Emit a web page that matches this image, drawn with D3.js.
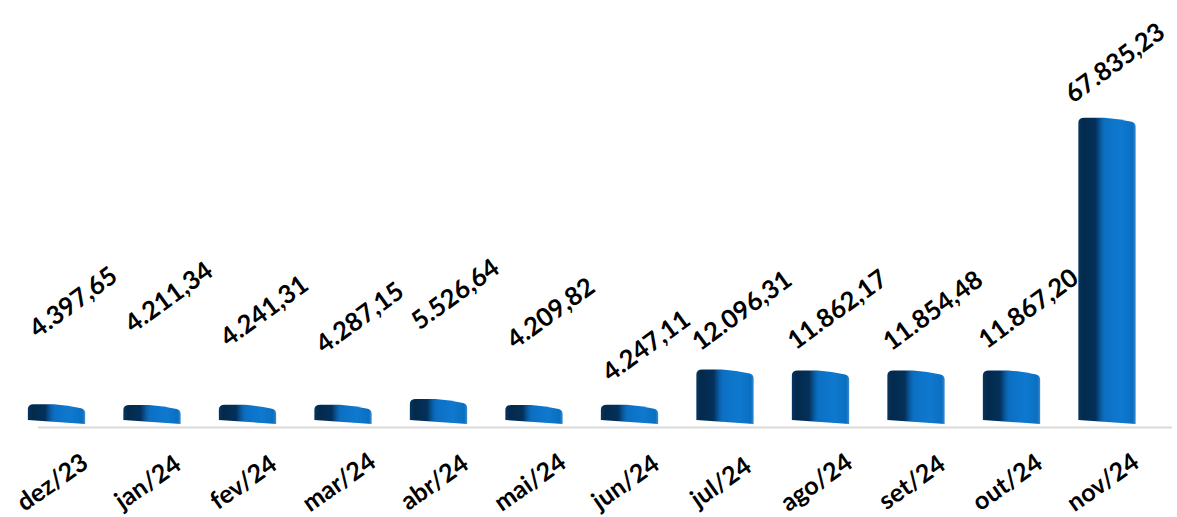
<!DOCTYPE html>
<html>
<head>
<meta charset="utf-8">
<script src="https://cdn.jsdelivr.net/npm/d3@7"></script>
<style>
  html, body { margin: 0; padding: 0; background: #ffffff; }
  svg { display: block; }
</style>
</head>
<body>
<svg id="chart" width="1177" height="517"></svg>
<script>
const months = ["dez/23","jan/24","fev/24","mar/24","abr/24","mai/24","jun/24","jul/24","ago/24","set/24","out/24","nov/24"];
const values = [4397.65, 4211.34, 4241.31, 4287.15, 5526.64, 4209.82, 4247.11, 12096.31, 11862.17, 11854.48, 11867.20, 67835.23];
const valueLabels = ["4.397,65","4.211,34","4.241,31","4.287,15","5.526,64","4.209,82","4.247,11","12.096,31","11.862,17","11.854,48","11.867,20","67.835,23"];
// per-label nudges (px) reproducing the reference's label layout
const labelLift = [43, 49, 35, 28, 46, 33, 0, 0, 2, 1, 3, -4];
const labelShiftX = [0, 0, 0, 0, 0, 0, 0, 0, 0, 0, 0, -9];

const W = 1177, H = 517;
const baseY = 424;
const svg = d3.select("#chart");

const x = d3.scaleBand().domain(months).range([8.75, 1154.75]).padding(0);
const y = d3.scaleLinear().domain([0, 70000]).range([baseY, baseY - 316]);
const bw = x.bandwidth();
const barW = bw * 0.6;

const defs = svg.append("defs");
const grad = defs.append("linearGradient").attr("id", "barGrad")
  .attr("x1", "0").attr("y1", "0").attr("x2", "1").attr("y2", "0");
[[0, "#06355e"], [0.08, "#032a4c"], [0.30, "#04305a"], [0.40, "#0a5ea6"], [0.46, "#0b70c4"],
 [0.75, "#0f79cf"], [0.95, "#0a6fc0"], [1, "#3a8ad0"]]
  .forEach(([o, c]) => grad.append("stop").attr("offset", o).attr("stop-color", c));

// baseline
svg.append("line")
  .attr("x1", 38).attr("x2", 1172)
  .attr("y1", baseY + 3.5).attr("y2", baseY + 3.5)
  .attr("stroke", "#d9d9d9").attr("stroke-width", 2);

function barPath(v, m) {
  const cx = x(m) + bw / 2;
  const x0 = cx - barW / 2, x1 = cx + barW / 2;
  const yt = y(v);
  const w = x1 - x0;
  const p = d3.path();
  p.moveTo(x0, baseY - 4);
  p.lineTo(x0, yt + 5);
  p.quadraticCurveTo(x0, yt, x0 + 6, yt);
  p.lineTo(x0 + 0.45 * w, yt);
  p.quadraticCurveTo(x0 + 0.7 * w, yt + 1, x1 - 4, yt + 4);
  p.quadraticCurveTo(x1, yt + 5, x1, yt + 9);
  p.lineTo(x1, baseY);
  p.closePath();
  return p.toString();
}

svg.append("g").selectAll("path")
  .data(values)
  .join("path")
  .attr("d", (v, i) => barPath(v, months[i]))
  .attr("fill", "url(#barGrad)");

// value labels
svg.append("g").selectAll("text")
  .data(values)
  .join("text")
  .attr("transform", (v, i) => {
    const cx = x(months[i]) + bw / 2 + 16 + labelShiftX[i];
    const cy = y(v) - 60 - labelLift[i];
    return `translate(${cx},${cy}) rotate(-36)`;
  })
  .attr("text-anchor", "middle")
  .attr("dominant-baseline", "central")
  .attr("font-family", "Lato, 'Open Sans', sans-serif")
  .attr("font-weight", 700)
  .attr("font-size", 25.5)
  .attr("fill", "#000")
  .text((v, i) => valueLabels[i]);

// category labels
svg.append("g").selectAll("text")
  .data(months)
  .join("text")
  .attr("transform", m => `translate(${x(m) + bw / 2 - 5},481) rotate(-35)`)
  .attr("text-anchor", "middle")
  .attr("dominant-baseline", "central")
  .attr("font-family", "Lato, 'Open Sans', sans-serif")
  .attr("font-weight", 700)
  .attr("font-size", 25)
  .attr("fill", "#000")
  .text(m => m);
</script>
</body>
</html>
